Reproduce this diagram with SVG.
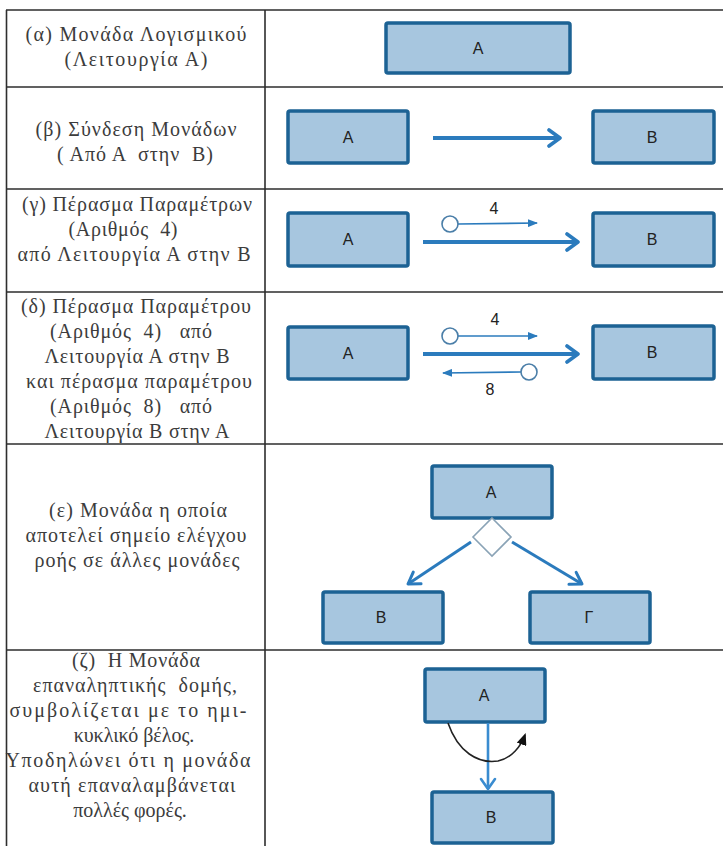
<svg xmlns="http://www.w3.org/2000/svg" width="723" height="846" viewBox="0 0 723 846">
<defs>
<style>
.grid{stroke:#2e2e2e;stroke-width:1.6;fill:none}
.desc{font-family:"Liberation Serif","Times New Roman","DejaVu Serif",serif;font-size:20px;fill:#3c3c3c;text-anchor:middle;white-space:pre}
.box{fill:#a7c6df;stroke:#1c6294;stroke-width:3.5}
.lbl{font-family:"Liberation Sans","DejaVu Sans",sans-serif;font-size:16px;fill:#222;text-anchor:middle}
.num{font-family:"Liberation Sans","DejaVu Sans",sans-serif;font-size:16px;fill:#222;text-anchor:middle}
.main{stroke:#2b7bbd;stroke-width:4;fill:none}
.thin{stroke:#2b7bbd;stroke-width:1.6;fill:none}
.branch{stroke:#2b7bbd;stroke-width:3;fill:none}
.down{stroke:#3a8cd0;stroke-width:2.6;fill:none}
.loop{stroke:#222;stroke-width:1.6;fill:none}
.port{fill:#fff;stroke:#4a7ea8;stroke-width:1.6}
.dia{fill:#fff;stroke:#8aa3b6;stroke-width:1.6}
</style>
<marker id="chev" markerUnits="userSpaceOnUse" viewBox="0 0 16 20" markerWidth="16" markerHeight="20" refX="13" refY="10" orient="auto">
<path d="M2,2 L13,10 L2,18" fill="none" stroke="#2b7bbd" stroke-width="3.6" stroke-linecap="round" stroke-linejoin="round"/>
</marker>
<marker id="chevs" markerUnits="userSpaceOnUse" viewBox="0 0 16 20" markerWidth="16" markerHeight="20" refX="13" refY="10" orient="auto">
<path d="M2,3 L13,10 L2,17" fill="none" stroke="#2b7bbd" stroke-width="3" stroke-linecap="round" stroke-linejoin="round"/>
</marker>
<marker id="chevd" markerUnits="userSpaceOnUse" viewBox="0 0 16 20" markerWidth="16" markerHeight="20" refX="13" refY="10" orient="auto">
<path d="M3,3 L13,10 L3,17" fill="none" stroke="#3a8cd0" stroke-width="2.6" stroke-linecap="round" stroke-linejoin="round"/>
</marker>
<marker id="tri" markerUnits="userSpaceOnUse" viewBox="0 0 10 8" markerWidth="10" markerHeight="8" refX="9" refY="4" orient="auto">
<path d="M0,0 L10,4 L0,8 Z" fill="#2b7bbd"/>
</marker>
<marker id="blk" markerUnits="userSpaceOnUse" viewBox="0 0 12 10" markerWidth="12" markerHeight="10" refX="10" refY="5" orient="auto">
<path d="M0,0 L12,5 L0,10 Z" fill="#111"/>
</marker>
</defs>
<rect width="723" height="846" fill="#fff"/>

<g id="table">
<path class="grid" d="M6,10 H723 M6,87 H723 M6,189 H723 M6,292 H723 M6,444 H723 M6,650 H723 M6.5,10 V846 M265,10 V846"/>
</g>

<g id="descriptions">
<text class="desc" x="136" y="41" textLength="221" lengthAdjust="spacing">(α) Μονάδα Λογισμικού</text>
<text class="desc" x="136" y="66" textLength="143" lengthAdjust="spacing">(Λειτουργία Α)</text>

<text class="desc" x="136" y="136" textLength="201" lengthAdjust="spacing">(β) Σύνδεση Μονάδων</text>
<text class="desc" x="135" y="161" textLength="156" lengthAdjust="spacing">( Από Α  στην  Β)</text>

<text class="desc" x="137" y="211" textLength="230" lengthAdjust="spacing">(γ) Πέρασμα Παραμέτρων</text>
<text class="desc" x="123" y="236" textLength="109" lengthAdjust="spacing">(Αριθμός  4)</text>
<text class="desc" x="134" y="261" textLength="233" lengthAdjust="spacing">από Λειτουργία Α στην Β</text>

<text class="desc" x="136" y="313" textLength="230" lengthAdjust="spacing">(δ) Πέρασμα Παραμέτρου</text>
<text class="desc" x="131" y="338" textLength="162" lengthAdjust="spacing">(Αριθμός  4)   από</text>
<text class="desc" x="137" y="363" textLength="185" lengthAdjust="spacing">Λειτουργία Α στην Β</text>
<text class="desc" x="139" y="388" textLength="226" lengthAdjust="spacing">και πέρασμα παραμέτρου</text>
<text class="desc" x="131" y="413" textLength="162" lengthAdjust="spacing">(Αριθμός  8)   από</text>
<text class="desc" x="137" y="438" textLength="185" lengthAdjust="spacing">Λειτουργία Β στην Α</text>

<text class="desc" x="138" y="517" textLength="178" lengthAdjust="spacing">(ε) Μονάδα η οποία</text>
<text class="desc" x="136" y="542" textLength="221" lengthAdjust="spacing">αποτελεί σημείο ελέγχου</text>
<text class="desc" x="137" y="567" textLength="205" lengthAdjust="spacing">ροής σε άλλες μονάδες</text>

<text class="desc" x="136" y="667" textLength="128" lengthAdjust="spacing">(ζ)  Η Μονάδα</text>
<text class="desc" x="135" y="692" textLength="204" lengthAdjust="spacing">επαναληπτικής  δομής,</text>
<text class="desc" x="128" y="717" textLength="237" lengthAdjust="spacing">συμβολίζεται με το ημι-</text>
<text class="desc" x="134" y="742">κυκλικό βέλος.</text>
<text class="desc" x="128" y="767" textLength="245" lengthAdjust="spacing">Υποδηλώνει ότι η μονάδα</text>
<text class="desc" x="132" y="792" textLength="207" lengthAdjust="spacing">αυτή επαναλαμβάνεται</text>
<text class="desc" x="130" y="817">πολλές φορές.</text>
</g>

<g id="a-A"><rect class="box" x="386" y="23" width="184" height="50" rx="2"/><text class="lbl" x="478" y="54">Α</text></g>

<g id="b-A"><rect class="box" x="288" y="111" width="120" height="52" rx="2"/><text class="lbl" x="348" y="143">Α</text></g>
<g id="b-B"><rect class="box" x="593" y="111" width="121" height="52" rx="2"/><text class="lbl" x="652" y="143">Β</text></g>

<g id="c-A"><rect class="box" x="288" y="213" width="120" height="53" rx="2"/><text class="lbl" x="348" y="245">Α</text></g>
<g id="c-B"><rect class="box" x="593" y="213" width="121" height="53" rx="2"/><text class="lbl" x="652" y="245">Β</text></g>

<g id="d-A"><rect class="box" x="288" y="327" width="120" height="52" rx="2"/><text class="lbl" x="348" y="359">Α</text></g>
<g id="d-B"><rect class="box" x="593" y="326" width="121" height="53" rx="2"/><text class="lbl" x="652" y="358">Β</text></g>

<g id="e-A"><rect class="box" x="432" y="466" width="120" height="52" rx="2"/><text class="lbl" x="491" y="498">Α</text></g>
<g id="e-dec"><path class="dia" d="M492,518 L511,537 L492,556 L473,537 Z"/></g>
<g id="e-B"><rect class="box" x="323" y="592" width="120" height="51" rx="2"/><text class="lbl" x="381" y="623">Β</text></g>
<g id="e-G"><rect class="box" x="530" y="592" width="120" height="51" rx="2"/><text class="lbl" x="589" y="623">Γ</text></g>

<g id="f-A"><rect class="box" x="425" y="669" width="120" height="53" rx="2"/><text class="lbl" x="484" y="701">Α</text></g>
<g id="f-B"><rect class="box" x="432" y="792" width="121" height="51" rx="2"/><text class="lbl" x="491" y="823">Β</text></g>

<g id="connectors">
<line class="main" x1="433" y1="138" x2="560" y2="138" marker-end="url(#chev)"/>

<line class="main" x1="423" y1="242" x2="578" y2="242" marker-end="url(#chev)"/>
<line class="thin" x1="458" y1="224" x2="537" y2="223" marker-end="url(#tri)"/>
<circle class="port" cx="450" cy="224" r="8"/>
<text class="num" x="494" y="214">4</text>

<line class="main" x1="423" y1="354" x2="578" y2="354" marker-end="url(#chev)"/>
<line class="thin" x1="458" y1="336" x2="537" y2="336" marker-end="url(#tri)"/>
<circle class="port" cx="450" cy="336" r="8"/>
<text class="num" x="495" y="325">4</text>
<line class="thin" x1="521" y1="372" x2="443" y2="373" marker-end="url(#tri)"/>
<circle class="port" cx="529" cy="372" r="8"/>
<text class="num" x="490" y="395">8</text>

<line class="branch" x1="471" y1="542" x2="408" y2="584" marker-end="url(#chevs)"/>
<line class="branch" x1="512" y1="542" x2="582" y2="584" marker-end="url(#chevs)"/>

<line class="down" x1="488" y1="723" x2="488" y2="789" marker-end="url(#chevd)"/>
<path class="loop" d="M448,723 C458,752 478,764 498,761 C512,758 521,746 525,735" marker-end="url(#blk)"/>
</g>
</svg>
